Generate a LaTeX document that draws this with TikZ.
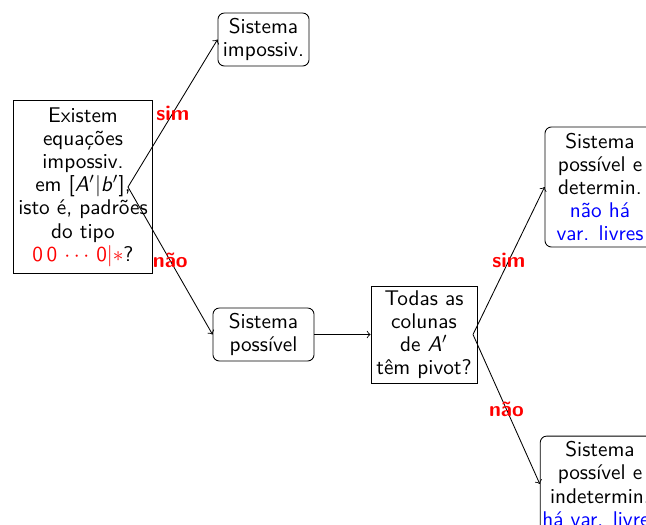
\documentclass[tikz,border=0pt]{standalone}
\usepackage{xcolor}
\usetikzlibrary{arrows}

\begin{document}
\begin{tikzpicture}[x=0.47pt,y=-0.47pt,
 font=\fontsize{10}{10.9}\selectfont\sffamily,
 qbox/.style={draw,align=center,inner sep=1pt},
 rbox/.style={draw,rounded corners=3pt,align=center,inner sep=1pt},
 arr/.style={->},
 lbl/.style={text=red,font=\fontsize{10}{10.9}\selectfont\sffamily\bfseries}]
\useasboundingbox (0,0) rectangle (646,525);
\clip (0,0) rectangle (646,525);
% perguntas
\node[qbox,minimum width=65.3pt,minimum height=81pt] (q1) at (83,187) {Existem\\ equações\\ impossiv.\\ em [\textit{A}$'|$\textit{b}$'$],\\ isto é, padrões\\ do tipo\\ {\color{red}0\,0 $\cdots$ 0$|{*}$}?};
\coordinate (q1o) at (128,187);
\node[qbox,minimum width=49.8pt,minimum height=45.6pt] (q2) at (424,334.5) {Todas as\\ colunas\\ de \textit{A}$'$\\ têm pivot?};
\coordinate (q2o) at (473,334.5);
% respostas
\node[rbox,minimum width=42.8pt,minimum height=24.9pt] (y1) at (263.5,39.5) {Sistema\\ impossiv.};
\node[rbox,minimum width=47.5pt,minimum height=24.9pt] (n1) at (263.5,334.5) {Sistema\\ possível};
\node[rbox,minimum width=51.7pt,minimum height=56.4pt] (y2) at (600,187) {Sistema\\ possível e\\ determin.\\ \color{blue}não há\\ \color{blue}var. livres};
\node[rbox,minimum width=55.5pt,minimum height=45pt] (n2) at (600,484) {Sistema\\ possível e\\ indetermin.\\ \color{blue}há var. livres};
% ligações
\draw[arr] (q1o) -- node[lbl]{sim} (y1.west);
\draw[arr] (q1o) -- node[lbl]{não} (n1.west);
\draw[arr] (n1) -- (q2);
\draw[arr] (q2o) -- node[lbl]{sim} (y2.west);
\draw[arr] (q2o) -- node[lbl]{não} (n2.west);
\end{tikzpicture}
\end{document}
